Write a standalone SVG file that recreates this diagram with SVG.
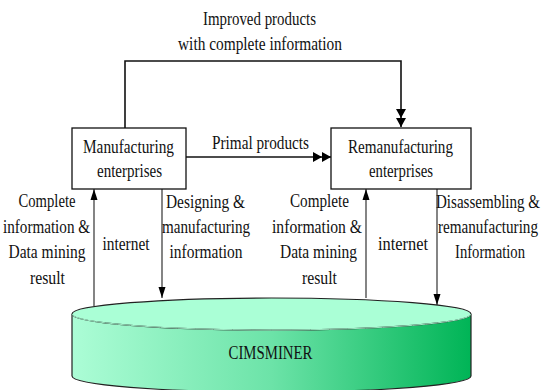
<svg xmlns="http://www.w3.org/2000/svg" width="546" height="390" viewBox="0 0 546 390">
<style>
text{font-family:"Liberation Serif","DejaVu Serif",serif;font-size:19px;fill:#111;text-anchor:middle}
.box{fill:#fff;stroke:#111;stroke-width:1.3}
.ln{fill:none;stroke:#111;stroke-width:1.6}
.vl{fill:none;stroke:#333;stroke-width:1.2}
</style>
<defs>
<linearGradient id="body" x1="0" y1="0" x2="1" y2="0">
<stop offset="0" stop-color="#acfdd6"/>
<stop offset="0.5" stop-color="#6ce3a8"/>
<stop offset="1" stop-color="#00b456"/>
</linearGradient>
<marker id="dbl" markerUnits="userSpaceOnUse" markerWidth="20" markerHeight="12" refX="18" refY="6" orient="auto">
<path d="M0,1 L9,6 L0,11 z M9,1 L18,6 L9,11 z" fill="#000"/>
</marker>
<marker id="ah" markerUnits="userSpaceOnUse" markerWidth="12" markerHeight="8" refX="11" refY="4" orient="auto">
<path d="M0,0.5 L11,4 L0,7.5 z" fill="#000"/>
</marker>
</defs>
<g id="connectors">
<path class="ln" d="M125,128 V61 H401 V127" marker-end="url(#dbl)"/>
<path class="ln" d="M186,157 H331" marker-end="url(#dbl)"/>
<path class="vl" d="M94,306 V189" marker-end="url(#ah)"/>
<path class="vl" d="M162,189 V298" marker-end="url(#ah)"/>
<path class="vl" d="M366,298 V189" marker-end="url(#ah)"/>
<path class="vl" d="M437,189 V305" marker-end="url(#ah)"/>
</g>
<g id="cimsminer">
<path d="M72,314 V376 A199.5,16 0 0 0 471,376 V314" fill="url(#body)" stroke="#222" stroke-width="1.2"/>
<ellipse cx="271.5" cy="314" rx="199.5" ry="16" fill="#aaffd6" stroke="#222" stroke-width="1.2"/>
<path d="M72,314 A199.5,16 0 0 0 471,314" fill="none" stroke="#9fe8c4" stroke-width="1"/>
<text x="270.5" y="359" textLength="84" lengthAdjust="spacingAndGlyphs">CIMSMINER</text>
</g>
<g id="manufacturing">
<rect class="box" x="72" y="128" width="114" height="61"/>
<text x="128.5" y="153" textLength="91" lengthAdjust="spacingAndGlyphs">Manufacturing</text>
<text x="129.5" y="177" textLength="65" lengthAdjust="spacingAndGlyphs">enterprises</text>
</g>
<g id="remanufacturing">
<rect class="box" x="331" y="128" width="140" height="61"/>
<text x="400.5" y="153" textLength="105" lengthAdjust="spacingAndGlyphs">Remanufacturing</text>
<text x="401" y="177" textLength="64" lengthAdjust="spacingAndGlyphs">enterprises</text>
</g>
<g id="labels">
<text x="259.5" y="25" textLength="113" lengthAdjust="spacingAndGlyphs">Improved products</text>
<text x="260" y="50" textLength="164" lengthAdjust="spacingAndGlyphs">with complete information</text>
<text x="260.5" y="149" textLength="97" lengthAdjust="spacingAndGlyphs">Primal products</text>
<text x="47" y="207" textLength="57" lengthAdjust="spacingAndGlyphs">Complete</text>
<text x="46.5" y="233" textLength="87" lengthAdjust="spacingAndGlyphs">information &amp;</text>
<text x="47" y="258" textLength="77" lengthAdjust="spacingAndGlyphs">Data mining</text>
<text x="47.5" y="284" textLength="35" lengthAdjust="spacingAndGlyphs">result</text>
<text x="126" y="250" textLength="47" lengthAdjust="spacingAndGlyphs">internet</text>
<text x="205.5" y="208" textLength="79" lengthAdjust="spacingAndGlyphs">Designing &amp;</text>
<text x="206" y="233" textLength="88" lengthAdjust="spacingAndGlyphs">manufacturing</text>
<text x="206" y="258" textLength="73" lengthAdjust="spacingAndGlyphs">information</text>
<text x="319.5" y="207" textLength="59" lengthAdjust="spacingAndGlyphs">Complete</text>
<text x="317" y="233" textLength="90" lengthAdjust="spacingAndGlyphs">information &amp;</text>
<text x="318.5" y="258" textLength="77" lengthAdjust="spacingAndGlyphs">Data mining</text>
<text x="319.5" y="284" textLength="35" lengthAdjust="spacingAndGlyphs">result</text>
<text x="403" y="250" textLength="50" lengthAdjust="spacingAndGlyphs">internet</text>
<text x="488" y="208" textLength="104" lengthAdjust="spacingAndGlyphs">Disassembling &amp;</text>
<text x="488" y="233" textLength="100" lengthAdjust="spacingAndGlyphs">remanufacturing</text>
<text x="490" y="258" textLength="70" lengthAdjust="spacingAndGlyphs">Information</text>
</g>
</svg>
